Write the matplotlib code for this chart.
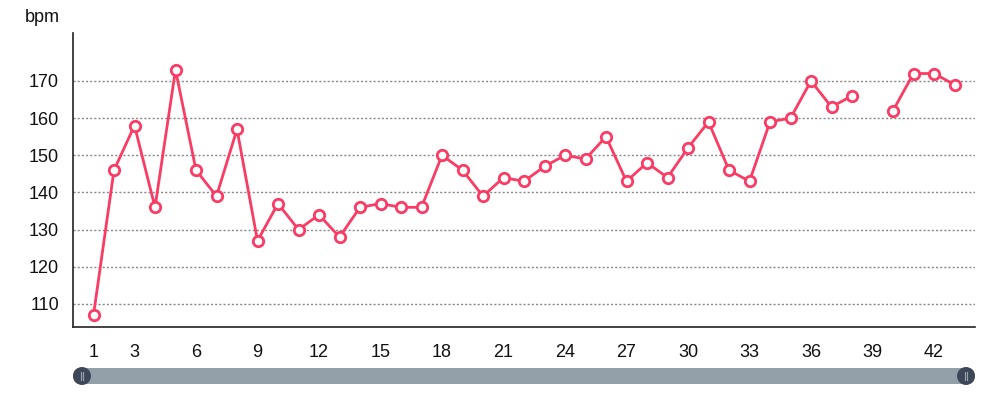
import numpy as np
import matplotlib.pyplot as plt
import matplotlib.patches as mpatches

plt.rcParams['font.family'] = ['Liberation Sans', 'DejaVu Sans']

# dati
days = list(range(1, 44))
bpm = [107, 146, 158, 136, 173, 146, 139, 157, 127, 137,
       130, 134, 128, 136, 137, 136, 136, 150, 146, 139,
       144, 143, 147, 150, 149, 155, 143, 148, 144, 152,
       159, 146, 143, 159, 160, 170, 163, 166, np.nan, 162,
       172, 172, 169]
xtick_labels = [1, 3, 6, 9, 12, 15, 18, 21, 24, 27, 30, 33, 36, 39, 42]
ytick_values = [110, 120, 130, 140, 150, 160, 170]

RED = '#fa3c64'

fig = plt.figure(figsize=(10, 3.96), dpi=100)
ax = fig.add_axes([0.073, 1 - 327 / 396, 0.902, (327 - 33) / 396])

ax.plot(days, bpm, color=RED, lw=2, marker='o', ms=7.5,
        markerfacecolor='white', markeredgecolor=RED, markeredgewidth=2, zorder=3)

ax.set_xlim(0, 44)
ax.set_ylim(103.8, 182.9)
ax.set_xticks(xtick_labels)
ax.set_yticks(ytick_values)
ax.tick_params(length=0, labelsize=13, pad=10, colors='#111111')
ax.tick_params(axis='x', pad=12)
ax.yaxis.grid(True, linestyle=(0, (1.5, 1.5)), color='#888888', lw=1)
for s in ['top', 'right']:
    ax.spines[s].set_visible(False)
for s in ['left', 'bottom']:
    ax.spines[s].set_color('#222222')
    ax.spines[s].set_linewidth(1.2)

fig.text(0.025, 1 - 18 / 396, 'bpm', fontsize=13, va='center', ha='left', color='#111111')

# slider in basso
sax = fig.add_axes([0.0, 0.0, 1.0, 1.0], zorder=-1)
sax.set_xlim(0, 1000)
sax.set_ylim(396, 0)
sax.axis('off')
bar = mpatches.FancyBboxPatch((73, 368), 902, 16, boxstyle='round,pad=0,rounding_size=8',
                              facecolor='#939fa9', edgecolor='none')
sax.add_patch(bar)
for cx in (82, 966):
    sax.add_patch(mpatches.Circle((cx, 376), 9, facecolor='#3e4759', edgecolor='none'))
    sax.plot([cx - 1.2, cx - 1.2], [372, 380], color='#9aa3b0', lw=0.8)
    sax.plot([cx + 1.2, cx + 1.2], [372, 380], color='#9aa3b0', lw=0.8)

fig.savefig('out.png', dpi=100)
